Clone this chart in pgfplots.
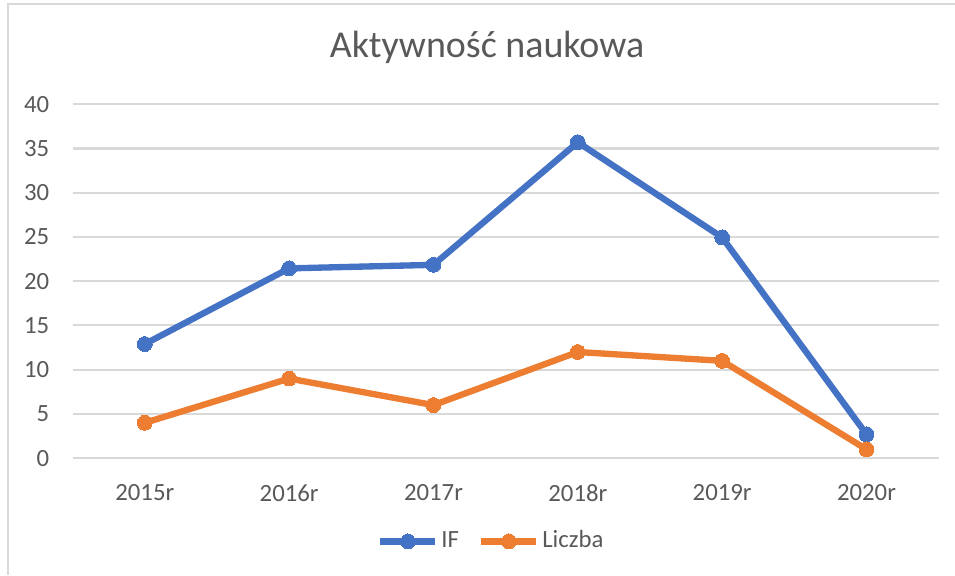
\documentclass[border=0pt]{standalone}
\usepackage{fontspec}
\setmainfont{Carlito}
\usepackage{pgfplots}
\pgfplotsset{compat=1.18}
\definecolor{ifblue}{HTML}{4472C4}
\definecolor{lorange}{HTML}{ED7D31}
\definecolor{gridg}{HTML}{D9D9D9}
\definecolor{txt}{HTML}{595959}
\begin{document}
\begin{tikzpicture}[x=0.3636pt,y=0.3636pt]
\useasboundingbox (0,0) rectangle (955,575);
\draw[gridg, line width=1pt] (8,0) -- (8,571) -- (955,571);
\node[txt, font=\fontsize{13.8}{16}\selectfont] at (487,528) {Aktywność naukowa};
\begin{axis}[
  at={(50.3,132)}, anchor=south west,
  scale only axis, width=314.9pt, height=128.7pt,
  xmin=-0.5, xmax=5.5, ymin=0, ymax=40,
  xtick={0,1,2,3,4,5},
  xticklabels={2015r,2016r,2017r,2018r,2019r,2020r},
  ytick={0,5,...,40},
  axis line style={draw=none},
  major tick length=0pt,
  ymajorgrids, grid style={gridg, line width=0.75pt},
  tick label style={txt, font=\fontsize{9}{11}\selectfont},
  /pgf/number format/assume math mode=true,
  yticklabel style={xshift=-5pt},
  xticklabel style={yshift=-6pt},
  clip=false,
  legend style={at={(0.484,-0.235)}, anchor=center, draw=none, fill=none,
    legend columns=2, font=\fontsize{9}{11}\selectfont, text=txt,
    nodes={inner sep=1pt},
    /tikz/every even column/.append style={column sep=6pt},
    inner sep=0pt},
  legend image code/.code={
    \draw[#1, mark=none] (0pt,0pt) -- (20pt,0pt);
    \draw[#1] plot coordinates {(10pt,0pt)};
  },
]
\addplot[ifblue, line width=2.3pt, mark=*, mark size=2.7pt, mark options={solid, fill=ifblue, draw=ifblue, line width=0pt}]
  coordinates {(0,12.9) (1,21.45) (2,21.85) (3,35.7) (4,24.95) (5,2.7)};
\addlegendentry{IF}
\addplot[lorange, line width=2.3pt, mark=*, mark size=2.7pt, mark options={solid, fill=lorange, draw=lorange, line width=0pt}]
  coordinates {(0,4) (1,9) (2,6) (3,12) (4,11) (5,1)};
\addlegendentry{Liczba}
\end{axis}
\end{tikzpicture}
\end{document}
